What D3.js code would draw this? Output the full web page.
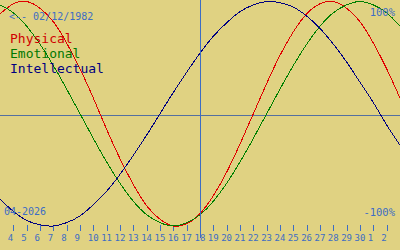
<!DOCTYPE html>
<html>
<head>
<meta charset="utf-8">
<script src="https://cdn.jsdelivr.net/npm/d3@7"></script>
<style>
    html, body { margin: 0; padding: 0; background: #e0d282; }
    svg { display: block; font-family: "DejaVu Sans Mono", monospace; }
</style>
</head>
<body>
<svg id="chart" width="400" height="250"></svg>
<script>
// jours affichés (index 0..30), du 3 avril au 3 mai
const days = [3, 4, 5, 6, 7, 8, 9, 10, 11, 12, 13, 14, 15, 16, 17, 18, 19, 20, 21, 22, 23, 24, 25, 26, 27, 28, 29, 30, 1, 2, 3];
const tickIdx = d3.range(1, 30);
const todayIdx = 15;

// valeurs en %, une par jour
const physical = [89, 98, 100, 94, 82, 63, 40, 14, -14, -40, -63, -82, -94, -100, -98, -89, -73, -52, -27, 0, 27, 52, 73, 89, 98, 100, 94, 82, 63, 40, 14];
const emotional = [97, 90, 78, 62, 43, 22, 0, -22, -43, -62, -78, -90, -97, -100, -97, -90, -78, -62, -43, -22, 0, 22, 43, 62, 78, 90, 97, 100, 97, 90, 78];
const intellectual = [-76, -87, -95, -99, -100, -97, -91, -81, -69, -54, -37, -19, 0, 19, 37, 54, 69, 81, 91, 97, 100, 99, 95, 87, 76, 62, 46, 28, 10, -10, -28];

const birthLabel = "<-- 02/12/1982";
const monthLabel = "04-2026";

const blue = "#3d6dc4";

const svg = d3.select("#chart");
const width = 400;

const x = d3.scaleLinear().domain([0, 30]).range([0, width]);
const y = d3.scaleLinear().domain([-100, 100]).range([226, 1.5]);

// ligne du zéro
svg.append("line")
    .attr("x1", 0).attr("x2", width)
    .attr("y1", 115.5).attr("y2", 115.5)
    .attr("stroke", "#5470a0");

// axe des jours
const axis = d3.axisBottom(x)
    .tickValues(tickIdx)
    .tickSize(6)
    .tickPadding(4)
    .tickFormat(i => days[i]);

const axisG = svg.append("g")
    .attr("transform", "translate(0,225)")
    .call(axis);
axisG.select(".domain").remove();
axisG.selectAll(".tick line").attr("stroke", blue).attr("shape-rendering", "crispEdges");
axisG.selectAll(".tick text")
    .attr("fill", blue)
    .attr("font-family", "DejaVu Sans Mono")
    .attr("font-size", 9)
    .attr("text-anchor", "start")
    .attr("x", -6);

const line = d3.line()
    .x((d, i) => x(i))
    .y(d => y(d))
    .curve(d3.curveNatural);

const series = [
    {name: "Physical", values: physical, color: "#e00000", text: "#d00000"},
    {name: "Emotional", values: emotional, color: "#008000", text: "#007800"},
    {name: "Intellectual", values: intellectual, color: "#000080", text: "#000080"}
];

svg.selectAll(".curve")
    .data(series)
    .join("path")
    .attr("class", "curve")
    .attr("d", d => line(d.values))
    .attr("fill", "none")
    .attr("stroke", d => d.color)
    .attr("stroke-width", 1)
    .attr("shape-rendering", "crispEdges");

// aujourd'hui
svg.append("line")
    .attr("x1", x(todayIdx) + 0.5).attr("x2", x(todayIdx) + 0.5)
    .attr("y1", 0).attr("y2", 238)
    .attr("stroke", blue);

// légende
svg.selectAll(".legend")
    .data(series)
    .join("text")
    .attr("class", "legend")
    .attr("x", 10)
    .attr("y", (d, i) => 43 + i * 15)
    .attr("font-size", 13)
    .attr("fill", d => d.text)
    .text(d => d.name);

svg.append("text")
    .attr("x", 9).attr("y", 20)
    .attr("font-size", 10)
    .attr("fill", blue)
    .text(birthLabel);

svg.append("text")
    .attr("x", 4).attr("y", 215)
    .attr("font-size", 10)
    .attr("fill", blue)
    .text(monthLabel);

svg.append("text")
    .attr("x", 395).attr("y", 16)
    .attr("font-size", 10.5)
    .attr("text-anchor", "end")
    .attr("fill", blue)
    .text("100%");

svg.append("text")
    .attr("x", 395).attr("y", 216)
    .attr("font-size", 10.5)
    .attr("text-anchor", "end")
    .attr("fill", blue)
    .text("-100%");
</script>
</body>
</html>
